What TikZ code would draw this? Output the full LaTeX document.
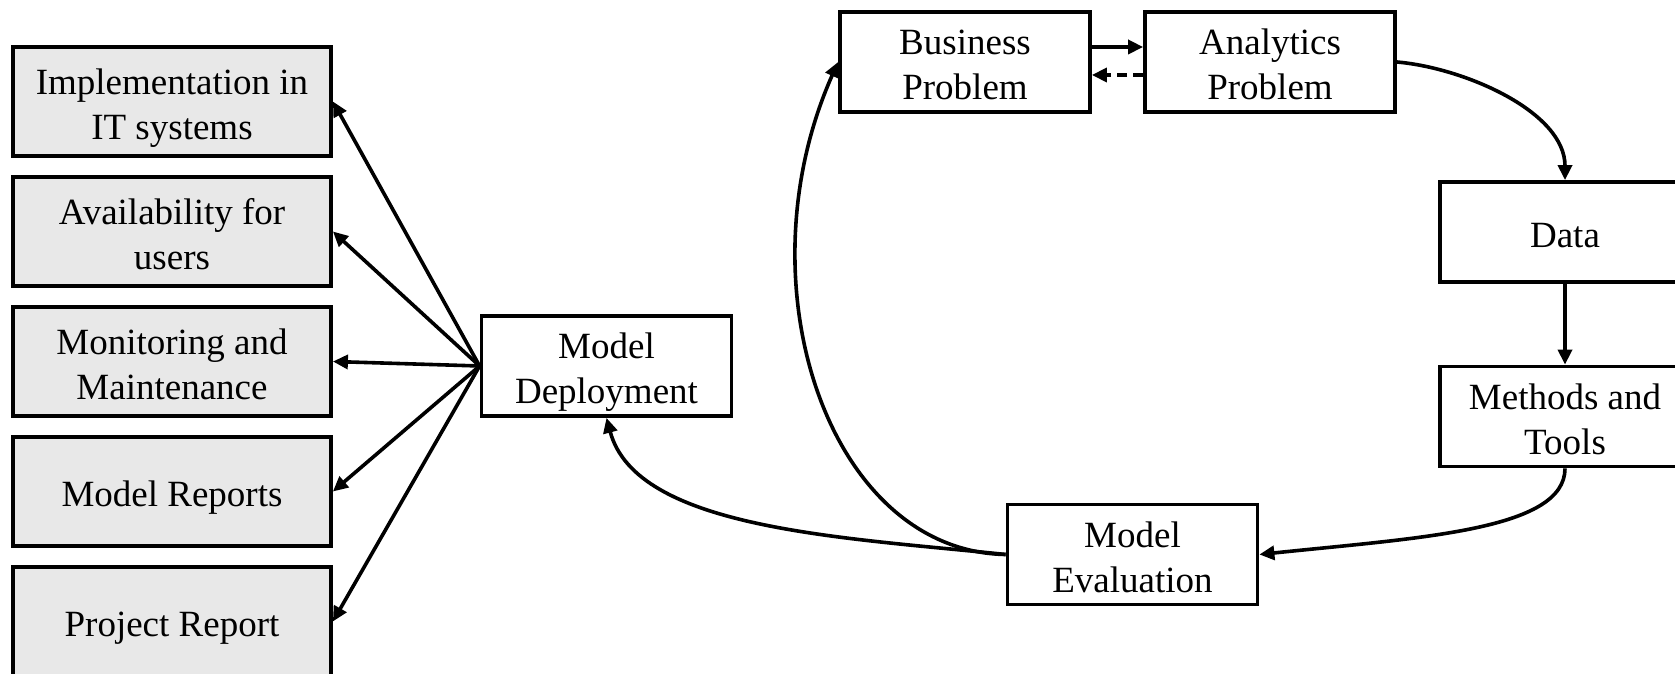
\documentclass[tikz,border=0pt]{standalone}
\usepackage{fontspec}
\setmainfont{Liberation Serif}
\usetikzlibrary{arrows.meta, positioning}

\begin{document}
\begin{tikzpicture}[x=0.5pt, y=0.5pt,
    box/.style={draw, line width=1.9pt, minimum width=125pt, minimum height=50pt,
        align=center, inner sep=2pt, text height=40pt, text depth=2.3pt,
        font=\fontsize{18.5}{22.5}\selectfont},
    oneline/.style={text height=18pt, text depth=2.8pt},
    outbox/.style={box, fill=black!9, minimum width=159pt, minimum height=54.5pt},
    arr/.style={line width=1.8pt, -{Triangle[length=7.5pt, width=7pt]}}]
    \useasboundingbox (0,0) rectangle (1675,674);
    \node[outbox] (impl) at (172,572.5) {Implementation in\\IT systems};
    \node[outbox] (avail) at (172,442.5) {Availability for\\users};
    \node[outbox] (monit) at (172,312.5) {Monitoring and\\Maintenance};
    \node[outbox, oneline] (modrep) at (172,182.5) {Model Reports};
    \node[outbox, oneline] (projrep) at (172,52.5) {Project Report};
    \node[box] (deploy) at (606.5,308) {Model\\Deployment};
    \node[box] (busprob) at (965,612) {Business\\Problem};
    \node[box] (anaprob) at (1270,612) {Analytics\\Problem};
    \node[box, oneline] (data) at (1565,442) {Data};
    \node[box] (methods) at (1565,257.5) {Methods and\\Tools};
    \node[box] (evalu) at (1132.5,119.5) {Model\\Evaluation};
    \foreach \n in {impl,avail,monit,modrep,projrep}{\draw[arr] (deploy.west) -- (\n.east);}
    \draw[arr] ([yshift=7.5pt]busprob.east) -- ([yshift=7.5pt]anaprob.west);
    \draw[arr, dash pattern=on 5pt off 3pt] ([yshift=-6.5pt]anaprob.west) -- ([yshift=-6.5pt]busprob.east);
    \draw[arr] (anaprob.east) to[out=-5, in=90, looseness=0.85] (data.north);
    \draw[arr] (data) -- (methods);
    \draw[arr] (methods.south) to[out=-90, in=6, out looseness=0.5, in looseness=1.3] (evalu.east);
    \draw[arr] (evalu.west) to[out=174, in=-75, out looseness=1, in looseness=0.7] (deploy.south);
    \draw[arr] (evalu.west) to[out=179, in=-114, out looseness=0.87, in looseness=1.2] (busprob.west);
\end{tikzpicture}
\end{document}
